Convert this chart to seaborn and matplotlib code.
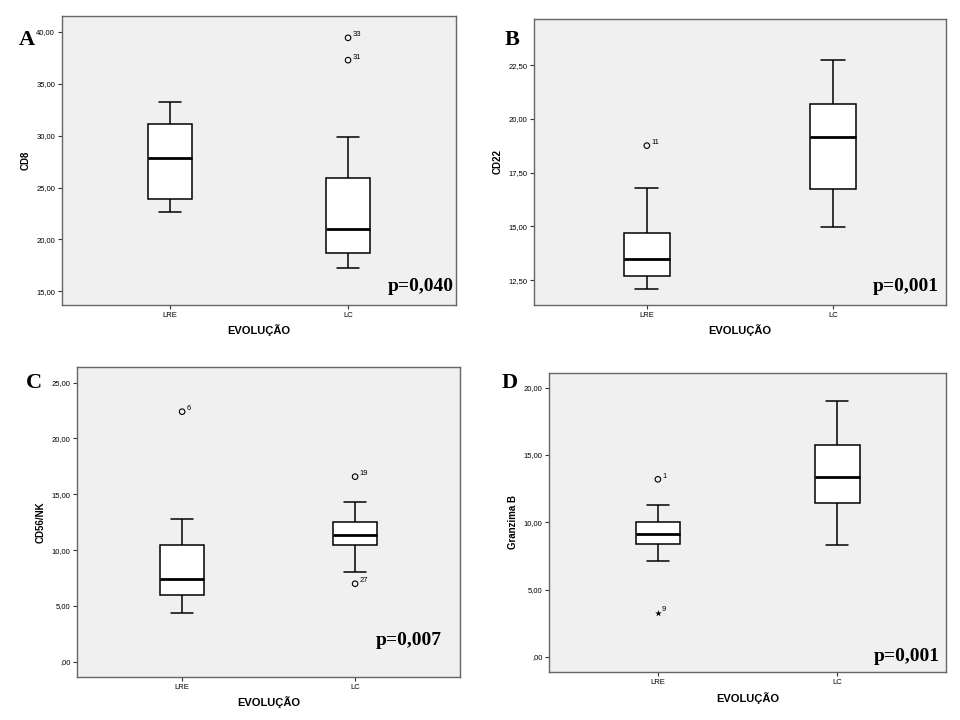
import numpy as np
import pandas as pd
import seaborn as sns
import matplotlib.pyplot as plt
from matplotlib.ticker import FuncFormatter

sns.set_style('white')
plt.rcParams['font.family'] = ['Liberation Sans', 'DejaVu Sans']
plt.rcParams['text.color'] = 'black'
plt.rcParams['axes.labelcolor'] = 'black'
plt.rcParams['xtick.color'] = 'black'
plt.rcParams['ytick.color'] = 'black'

groups = ['LRE', 'LC']

# box summaries per group: lower whisker, Q1, median, Q3, upper whisker
cd8_lre = [22.6, 23.9, 27.8, 31.1, 33.2]
cd8_lc = [17.25, 18.7, 21.05, 25.9, 29.85]
cd22_lre = [12.1, 12.67, 13.46, 14.67, 16.8]
cd22_lc = [14.97, 16.73, 19.16, 20.68, 22.75]
cd56_lre = [4.33, 5.97, 7.38, 10.42, 12.75]
cd56_lc = [8.03, 10.42, 11.32, 12.51, 14.31]
gzb_lre = [7.15, 8.37, 9.13, 10.0, 11.31]
gzb_lc = [8.34, 11.41, 13.39, 15.72, 18.99]

# outliers (group, value, case id)
cd8_out_grp = ['LC', 'LC']
cd8_out_val = [39.4, 37.25]
cd8_out_id = ['33', '31']
cd22_out_grp = ['LRE']
cd22_out_val = [18.76]
cd22_out_id = ['11']
cd56_out_grp = ['LRE', 'LC', 'LC']
cd56_out_val = [22.4, 16.58, 6.99]
cd56_out_id = ['6', '19', '27']
gzb_out_grp = ['LRE']
gzb_out_val = [13.19]
gzb_out_id = ['1']
# extreme values (star)
gzb_ext_grp = ['LRE']
gzb_ext_val = [3.29]
gzb_ext_id = ['9']

panels = [
    dict(letter='A', ylabel='CD8', lre=cd8_lre, lc=cd8_lc,
         out=(cd8_out_grp, cd8_out_val, cd8_out_id), ext=None,
         ylim=(13.7, 41.5), ticks=np.arange(15, 40.1, 5), p='p=0,040',
         rect=[0.0646, 0.5764, 0.4104, 0.4014], ppos=(0.993, 0.063),
         lpos=(26.5, 40)),
    dict(letter='B', ylabel='CD22', lre=cd22_lre, lc=cd22_lc,
         out=(cd22_out_grp, cd22_out_val, cd22_out_id), ext=None,
         ylim=(11.34, 24.67), ticks=np.arange(12.5, 22.6, 2.5), p='p=0,001',
         rect=[0.5563, 0.5764, 0.4289, 0.3976], ppos=(0.984, 0.064),
         lpos=(512.3, 40)),
    dict(letter='C', ylabel='CD56/NK', lre=cd56_lre, lc=cd56_lc,
         out=(cd56_out_grp, cd56_out_val, cd56_out_id), ext=None,
         ylim=(-1.34, 26.43), ticks=np.arange(0, 25.1, 5), p='p=0,007',
         rect=[0.0805, 0.0601, 0.3986, 0.4306], ppos=(0.952, 0.118),
         lpos=(34, 383.3)),
    dict(letter='D', ylabel='Granzima B', lre=gzb_lre, lc=gzb_lc,
         out=(gzb_out_grp, gzb_out_val, gzb_out_id),
         ext=(gzb_ext_grp, gzb_ext_val, gzb_ext_id),
         ylim=(-1.14, 21.11), ticks=np.arange(0, 20.1, 5), p='p=0,001',
         rect=[0.5722, 0.0663, 0.4129, 0.4161], ppos=(0.984, 0.052),
         lpos=(510, 383.3)),
]


def spss_fmt(v, pos):
    s = f'{v:.2f}'.replace('.', ',')
    if s.startswith('0,'):
        s = s[1:]
    return s


def mark_points(ax, grp, val, ids, marker, size):
    n_before = len(ax.collections)
    sns.stripplot(x=grp, y=val, order=groups, jitter=False, marker=marker,
                  size=size, color='black', ax=ax)
    for coll in ax.collections[n_before:]:
        if marker == 'o':
            coll.set_facecolor('none')
            coll.set_edgecolor('black')
            coll.set_linewidth(0.8)
    for g, v, i in zip(grp, val, ids):
        ax.annotate(i, (groups.index(g), v), xytext=(3, 1),
                    textcoords='offset points', fontsize=5.5)


fig = plt.figure(figsize=(9.6, 7.2), dpi=100)

for pnl in panels:
    ax = fig.add_axes(pnl['rect'])
    df = pd.DataFrame({'EVOLUÇÃO': ['LRE'] * 5 + ['LC'] * 5,
                       'value': pnl['lre'] + pnl['lc']})
    sns.boxplot(data=df, x='EVOLUÇÃO', y='value', order=groups, whis=(0, 100),
                width=0.25, color='white', saturation=1, linecolor='black',
                linewidth=1.1, fliersize=0, medianprops=dict(linewidth=2),
                ax=ax)
    mark_points(ax, *pnl['out'], marker='o', size=4)
    if pnl['ext'] is not None:
        mark_points(ax, *pnl['ext'], marker='*', size=5)

    ax.set_facecolor('#f0f0f0')
    ax.set_xlim(-0.606, 1.606)
    ax.set_ylim(*pnl['ylim'])
    ax.set_yticks(pnl['ticks'])
    ax.yaxis.set_major_formatter(FuncFormatter(spss_fmt))
    ax.tick_params(axis='both', direction='out', length=3, width=0.8, pad=2,
                   labelsize=5.5, color='#333333', left=True, bottom=True)
    for sp in ax.spines.values():
        sp.set_color('#666666')
        sp.set_linewidth(1.0)
    ax.set_xlabel('EVOLUÇÃO', fontsize=8, fontweight='bold', labelpad=4)
    ax.set_ylabel(pnl['ylabel'], fontsize=7, fontweight='bold', labelpad=4)

    ax.text(pnl['ppos'][0], pnl['ppos'][1], pnl['p'], transform=ax.transAxes,
            ha='right', va='center', fontsize=14, fontweight='bold',
            family='Liberation Serif')
    fig.text(pnl['lpos'][0] / 960, 1 - pnl['lpos'][1] / 720, pnl['letter'],
             ha='center', va='center', fontsize=16, fontweight='bold',
             family='Liberation Serif')

fig.savefig('out.png', dpi=100)
